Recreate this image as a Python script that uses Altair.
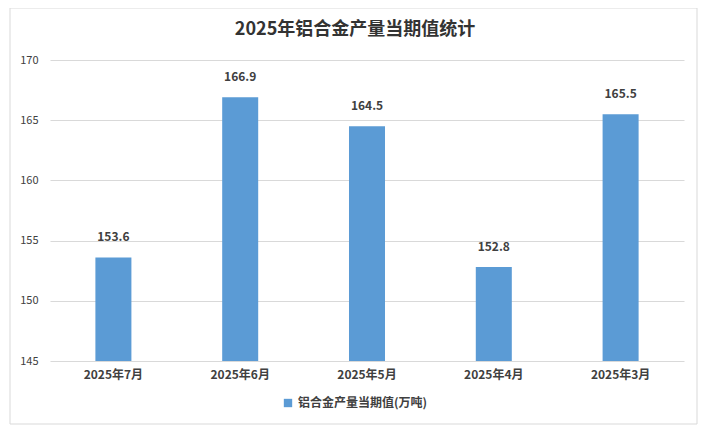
import altair as alt
import pandas as pd

months = ["2025年7月", "2025年6月", "2025年5月", "2025年4月", "2025年3月"]
values = [153.6, 166.9, 164.5, 152.8, 165.5]
series_name = "铝合金产量当期值(万吨)"
title_text = "2025年铝合金产量当期值统计"

df = pd.DataFrame({"month": months, "value": values, "series": [series_name] * len(months)})

FONT = "Noto Sans CJK SC"
W, H = 634, 301

base = alt.Chart(df)

border = alt.Chart(pd.DataFrame({"a": [0]})).mark_rect(
    fillOpacity=0, stroke="#d9d9d9", strokeWidth=1
).encode(
    x=alt.value(-40), x2=alt.value(647), y=alt.value(-52), y2=alt.value(364)
)

title = alt.Chart(pd.DataFrame({"t": [title_text]})).mark_text(
    font=FONT, fontSize=18, fontWeight="bold", color="#333333", baseline="middle", align="center"
).encode(text="t:N", x=alt.value(305), y=alt.value(-30))

x_axis = alt.Axis(labelAngle=0, labelFont=FONT, labelFontSize=12, labelFontWeight="bold",
                  labelColor="#404040", labelPadding=8, ticks=False,
                  domain=False, grid=False, gridOpacity=0)
y_axis = alt.Axis(values=[145, 150, 155, 160, 165, 170], labelFont=FONT, labelFontSize=11,
                  labelColor="#404040", labelPadding=12, ticks=False, domain=False, domainOpacity=0,
                  gridColor="#d9d9d9", gridWidth=1)
x_scale = alt.Scale(paddingInner=0.716, paddingOuter=0.358)
y_scale = alt.Scale(domain=[145, 170], zero=False, nice=False)

bars = base.mark_bar(color="#5b9bd5").encode(
    x=alt.X("month:N", sort=months, title=None, scale=x_scale, axis=x_axis),
    y=alt.Y("value:Q", title=None, scale=y_scale, axis=y_axis),
    y2=alt.datum(145),
    color=alt.Color("series:N", scale=alt.Scale(range=["#5b9bd5"]), title=None,
                    legend=alt.Legend(orient="none", legendX=232, legendY=337, symbolType="square",
                                      symbolSize=70, labelFont=FONT, labelFontSize=12,
                                      labelFontWeight="bold", labelColor="#404040", symbolStrokeWidth=0)),
)

labels = base.mark_text(
    font=FONT, fontSize=12, fontWeight="bold", color="#404040", dy=-13, baseline="bottom"
).encode(
    x=alt.X("month:N", sort=months, title=None, scale=x_scale, axis=x_axis),
    y=alt.Y("value:Q", title=None, scale=y_scale, axis=y_axis),
    text=alt.Text("value:Q", format=".1f"),
)

chart = alt.layer(border, bars, labels, title).properties(
    width=W, height=H,
    autosize=alt.AutoSizeParams(type="none"),
    padding={"left": 42, "top": 52, "right": 14, "bottom": 66},
    view=alt.ViewBackground(strokeWidth=0, stroke="transparent"),
).configure(background="white").configure_view(strokeWidth=0, stroke="transparent").configure_axisX(
    grid=False, domain=False, ticks=False
).configure_axisY(domain=False, ticks=False)

chart.save("out.html", embed_options={"renderer": "svg", "actions": False})
